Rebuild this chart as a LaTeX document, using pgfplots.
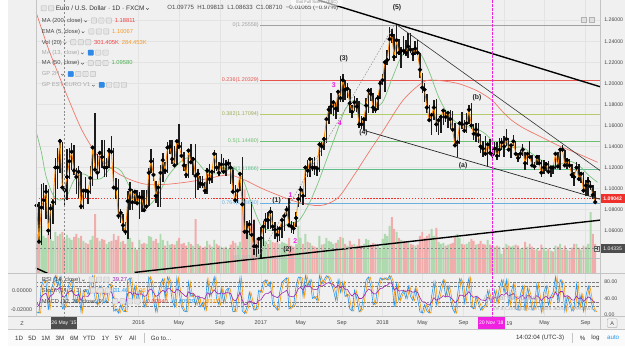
\documentclass[border=0pt]{standalone}
\usepackage{fontspec}
\setmainfont{Liberation Sans}
\usepackage{pgfplots}
\pgfplotsset{compat=1.18}
\usepackage{pgfplotstable}

% ---------- colours ----------
\definecolor{panebg}{HTML}{F0F0F0}
\definecolor{barbg}{HTML}{FAFAFA}
\definecolor{gridc}{HTML}{E3E3E3}
\definecolor{sepc}{HTML}{C4C4C4}
\definecolor{txt}{HTML}{474747}
\definecolor{txtl}{HTML}{A8A8A8}
\definecolor{candle}{HTML}{1C1C1C}
\definecolor{ema}{HTML}{FF8A00}
\definecolor{ma200}{HTML}{F0786C}
\definecolor{ma50}{HTML}{7CC47F}
\definecolor{volr}{HTML}{F2A5A5}
\definecolor{volg}{HTML}{A8D8A8}
\definecolor{fib0}{HTML}{A0A0A0}
\definecolor{fib1}{HTML}{E5534B}
\definecolor{fib2}{HTML}{B5CC6A}
\definecolor{fib3}{HTML}{6CC070}
\definecolor{fib4}{HTML}{5DBE8C}
\definecolor{fib5}{HTML}{6AB0E0}
\definecolor{wmag}{HTML}{F020E0}
\definecolor{stk}{HTML}{2196F3}
\definecolor{std}{HTML}{FF9800}
\definecolor{rsic}{HTML}{9C27B0}
\definecolor{lvl}{HTML}{7A7A7A}
\definecolor{lastred}{HTML}{F0302A}
\definecolor{crossbg}{HTML}{4D4D4D}
\definecolor{icoborder}{HTML}{BDBDBD}
\definecolor{icofill}{HTML}{E4E4E4}
\definecolor{icoblue}{HTML}{2E8AE6}
\definecolor{valred}{HTML}{F04040}
\definecolor{valor}{HTML}{F59A2B}
\definecolor{valgr}{HTML}{4CAF50}

% ---------- weekly EUR/USD: week (0 = 4 Jan 2016), high, low, close,
% signed volume (+ up / - down), stochastic %K, RSI ----------
\pgfplotstableread{
w h l c v k r
-44 1.1245 1.0840 1.0840 -40 8 30
-43 1.0870 1.0490 1.0495 -45 5 22
-42 1.1040 1.0462 1.0820 48 70 45
-41 1.1050 1.0800 1.0890 38 85 50
-40 1.1035 1.0710 1.0970 36 80 53
-39 1.1000 1.0560 1.0600 -40 12 38
-38 1.0850 1.0520 1.0810 35 60 47
-37 1.0900 1.0660 1.0870 33 75 50
-36 1.1290 1.0840 1.1200 42 95 64
-35 1.1390 1.1000 1.1200 -38 70 62
-34 1.1467 1.1150 1.1450 40 92 68
-33 1.1440 1.1020 1.1010 -42 15 45
-32 1.1010 1.0820 1.0985 -35 20 44
-31 1.1380 1.0890 1.1110 39 55 52
-30 1.1390 1.1090 1.1260 36 78 57
-29 1.1430 1.1180 1.1350 34 85 60
-28 1.1410 1.1130 1.1170 -37 35 50
-27 1.1200 1.0950 1.1110 -40 30 47
-26 1.1210 1.0910 1.1160 36 55 50
-25 1.1160 1.0810 1.0830 -38 8 35
-24 1.0990 1.0810 1.0980 33 60 46
-23 1.1110 1.0910 1.0980 -31 62 46
-22 1.1000 1.0850 1.0970 -30 50 45
-21 1.1210 1.0950 1.1100 34 80 54
-20 1.1390 1.1020 1.1390 38 95 66
-19 1.1714 1.1170 1.1180 -60 40 55
-18 1.1330 1.1090 1.1150 -36 25 52
-17 1.1360 1.1150 1.1340 33 70 58
-16 1.1460 1.1200 1.1300 -35 60 56
-15 1.1460 1.1110 1.1200 -34 30 51
-14 1.1290 1.1110 1.1200 30 35 51
-13 1.1390 1.1200 1.1360 32 75 57
-12 1.1495 1.1340 1.1350 -33 70 56
-11 1.1390 1.1000 1.1010 -40 10 40
-10 1.1100 1.0900 1.1000 -34 15 39
-9 1.1090 1.0710 1.0740 -38 5 30
-8 1.0810 1.0670 1.0770 32 25 33
-7 1.0760 1.0600 1.0650 -33 10 28
-6 1.0680 1.0560 1.0590 -30 8 26
-5 1.0980 1.0524 1.0880 45 85 52
-4 1.1060 1.0800 1.0990 36 90 56
-3 1.1000 1.0800 1.0870 -32 40 50
-2 1.0990 1.0850 1.0970 26 70 54
-1 1.0990 1.0860 1.0860 -24 30 49
0 1.0970 1.0710 1.0920 34 60 51
1 1.0990 1.0780 1.0915 -30 55 51
2 1.0990 1.0780 1.0795 -31 20 45
3 1.0990 1.0810 1.0830 30 35 47
4 1.1200 1.0830 1.1150 38 92 60
5 1.1376 1.1150 1.1260 37 80 63
6 1.1290 1.1070 1.1130 -33 35 55
7 1.1070 1.0860 1.0930 -35 8 45
8 1.1020 1.0820 1.1010 31 50 48
9 1.1220 1.0820 1.1150 40 75 55
10 1.1340 1.1060 1.1270 34 88 60
11 1.1250 1.1140 1.1170 -28 40 55
12 1.1440 1.1150 1.1390 33 92 64
13 1.1460 1.1330 1.1400 29 78 64
14 1.1460 1.1230 1.1280 -30 35 57
15 1.1400 1.1220 1.1220 -29 20 54
16 1.1460 1.1220 1.1450 33 90 63
17 1.1616 1.1380 1.1400 -36 55 60
18 1.1440 1.1300 1.1310 -30 20 54
19 1.1350 1.1170 1.1220 -31 10 49
20 1.1230 1.1100 1.1130 -28 8 44
21 1.1370 1.1100 1.1360 32 80 56
22 1.1420 1.1250 1.1250 -30 45 52
23 1.1300 1.1130 1.1280 28 50 53
24 1.1427 1.0912 1.1120 -55 25 45
25 1.1190 1.0990 1.1140 30 45 46
26 1.1120 1.1010 1.1050 -28 20 42
27 1.1120 1.1010 1.1040 -26 30 42
28 1.1060 1.0950 1.0980 -27 12 39
29 1.1200 1.0950 1.1170 33 85 54
30 1.1230 1.1040 1.1090 -29 45 50
31 1.1180 1.1050 1.1160 27 70 53
32 1.1366 1.1150 1.1330 34 92 61
33 1.1340 1.1170 1.1200 -30 40 54
34 1.1250 1.1120 1.1150 -28 25 51
35 1.1330 1.1160 1.1230 27 65 54
36 1.1290 1.1150 1.1160 -26 30 51
37 1.1270 1.1120 1.1230 27 60 54
38 1.1280 1.1180 1.1240 25 65 54
39 1.1250 1.1040 1.1200 -29 40 52
40 1.1200 1.0960 1.0970 -33 8 38
41 1.1030 1.0860 1.0890 -31 10 34
42 1.0990 1.0860 1.0980 28 50 42
43 1.1140 1.0980 1.1140 32 90 55
44 1.1299 1.0850 1.0850 -75 10 36
45 1.0900 1.0570 1.0590 -85 4 25
46 1.0690 1.0520 1.0590 -45 20 27
47 1.0700 1.0560 1.0660 40 55 34
48 1.0870 1.0540 1.0560 -50 30 32
49 1.0700 1.0370 1.0450 -55 12 28
50 1.0470 1.0352 1.0450 -34 15 28
51 1.0500 1.0380 1.0520 24 60 35
52 1.0630 1.0340 1.0530 40 55 37
53 1.0690 1.0450 1.0640 36 80 46
54 1.0770 1.0580 1.0700 33 85 52
55 1.0780 1.0620 1.0700 -30 70 52
56 1.0829 1.0620 1.0780 34 80 57
57 1.0790 1.0600 1.0640 -32 25 47
58 1.0680 1.0520 1.0610 -31 20 45
59 1.0640 1.0494 1.0560 -33 12 42
60 1.0630 1.0500 1.0620 30 55 47
61 1.0710 1.0530 1.0700 32 80 53
62 1.0770 1.0600 1.0740 31 85 56
63 1.0830 1.0740 1.0800 30 90 60
64 1.0906 1.0650 1.0650 -36 15 46
65 1.0690 1.0580 1.0640 -28 20 45
66 1.0680 1.0570 1.0620 -27 25 44
67 1.0780 1.0630 1.0720 30 70 52
68 1.0950 1.0820 1.0900 48 92 64
69 1.1020 1.0870 1.0990 36 90 67
70 1.0990 1.0840 1.0930 -30 45 60
71 1.1210 1.0920 1.1200 40 95 72
72 1.1270 1.1110 1.1170 -32 70 68
73 1.1290 1.1110 1.1280 31 85 70
74 1.1290 1.1170 1.1200 -28 40 63
75 1.1300 1.1130 1.1200 -27 45 62
76 1.1210 1.1120 1.1190 -26 35 61
77 1.1445 1.1160 1.1420 38 95 72
78 1.1440 1.1310 1.1400 -29 75 70
79 1.1490 1.1370 1.1470 30 85 72
80 1.1680 1.1430 1.1660 36 95 77
81 1.1780 1.1610 1.1750 33 90 78
82 1.1910 1.1710 1.1780 32 75 76
83 1.1840 1.1690 1.1820 30 60 74
84 1.1810 1.1660 1.1760 -31 35 66
85 1.1940 1.1730 1.1920 34 85 72
86 1.2070 1.1820 1.1860 -37 55 66
87 1.2092 1.1820 1.2030 36 80 70
88 1.2030 1.1840 1.1940 -30 45 62
89 1.2000 1.1860 1.1950 28 50 62
90 1.1950 1.1720 1.1810 -33 15 52
91 1.1790 1.1670 1.1730 -29 10 46
92 1.1880 1.1740 1.1820 30 60 53
93 1.1860 1.1730 1.1780 -28 40 50
94 1.1830 1.1580 1.1610 -35 8 40
95 1.1690 1.1570 1.1610 -28 15 40
96 1.1670 1.1554 1.1660 30 50 45
97 1.1860 1.1640 1.1790 35 85 56
98 1.1960 1.1720 1.1930 34 92 63
99 1.1960 1.1830 1.1900 -29 70 60
100 1.1910 1.1720 1.1770 -31 25 52
101 1.1860 1.1720 1.1750 -30 30 51
102 1.1890 1.1750 1.1860 28 70 57
103 1.2020 1.1850 1.2000 26 90 64
104 1.2090 1.1980 1.2030 35 85 65
105 1.2200 1.1920 1.2200 40 90 71
106 1.2320 1.2170 1.2220 38 85 72
107 1.2537 1.2220 1.2420 48 95 78
108 1.2520 1.2380 1.2460 -57 80 77
109 1.2470 1.2210 1.2250 -45 20 60
110 1.2555 1.2240 1.2410 42 75 66
111 1.2420 1.2270 1.2290 -36 35 58
112 1.2350 1.2150 1.2310 34 50 59
113 1.2450 1.2270 1.2310 -33 60 59
114 1.2410 1.2260 1.2290 -31 40 57
115 1.2480 1.2240 1.2350 32 70 60
116 1.2480 1.2290 1.2320 -30 45 58
117 1.2340 1.2210 1.2280 -29 35 55
118 1.2400 1.2270 1.2330 28 65 57
119 1.2410 1.2270 1.2290 -29 40 55
120 1.2290 1.2050 1.2130 -38 8 42
121 1.2100 1.1910 1.1960 -42 5 32
122 1.2000 1.1820 1.1940 -36 25 32
123 1.1900 1.1720 1.1770 -38 10 27
124 1.1790 1.1650 1.1650 -40 5 24
125 1.1720 1.1510 1.1700 45 45 32
126 1.1840 1.1650 1.1770 38 80 42
127 1.1850 1.1540 1.1610 -46 25 36
128 1.1660 1.1510 1.1650 32 45 39
129 1.1690 1.1530 1.1680 30 70 42
130 1.1760 1.1600 1.1740 31 85 47
131 1.1750 1.1630 1.1680 -28 45 44
132 1.1720 1.1580 1.1720 29 70 46
133 1.1750 1.1570 1.1660 -30 40 43
134 1.1740 1.1550 1.1560 -31 15 38
135 1.1620 1.1410 1.1410 -38 5 30
136 1.1450 1.1301 1.1440 40 45 34
137 1.1640 1.1420 1.1620 36 88 48
138 1.1730 1.1570 1.1610 -30 75 48
139 1.1650 1.1530 1.1550 -29 30 45
140 1.1720 1.1530 1.1620 30 65 50
141 1.1790 1.1610 1.1750 32 90 57
142 1.1815 1.1570 1.1600 -35 20 47
143 1.1610 1.1460 1.1520 -33 15 43
144 1.1620 1.1440 1.1560 29 45 45
145 1.1620 1.1430 1.1510 -30 30 43
146 1.1520 1.1340 1.1400 -33 12 37
147 1.1450 1.1300 1.1380 -30 20 36
148 1.1500 1.1310 1.1330 -29 25 35
149 1.1420 1.1216 1.1420 34 60 43
150 1.1470 1.1340 1.1340 -29 35 39
151 1.1400 1.1270 1.1320 -28 30 38
152 1.1440 1.1320 1.1380 27 60 43
153 1.1440 1.1270 1.1310 -28 30 40
154 1.1480 1.1300 1.1370 27 65 45
155 1.1480 1.1370 1.1440 20 85 50
156 1.1500 1.1300 1.1400 -26 55 48
157 1.1570 1.1400 1.1470 30 85 54
158 1.1480 1.1360 1.1370 -28 25 46
159 1.1420 1.1290 1.1410 27 55 49
160 1.1510 1.1400 1.1450 28 75 52
161 1.1450 1.1320 1.1330 -29 15 43
162 1.1340 1.1250 1.1290 -28 12 40
163 1.1370 1.1290 1.1330 25 50 44
164 1.1420 1.1310 1.1370 26 70 48
165 1.1350 1.1180 1.1240 -32 10 39
166 1.1340 1.1220 1.1330 27 65 47
167 1.1448 1.1300 1.1300 -30 45 46
168 1.1320 1.1210 1.1220 -27 12 40
169 1.1250 1.1180 1.1210 -24 20 39
170 1.1320 1.1220 1.1300 25 75 47
171 1.1320 1.1230 1.1240 -23 40 43
172 1.1270 1.1111 1.1150 -29 8 35
173 1.1270 1.1140 1.1200 26 55 42
174 1.1250 1.1170 1.1230 23 70 45
175 1.1260 1.1150 1.1160 -25 25 40
176 1.1210 1.1110 1.1200 23 45 43
177 1.1210 1.1140 1.1200 -22 55 43
178 1.1350 1.1190 1.1330 28 92 56
179 1.1350 1.1200 1.1210 -27 30 46
180 1.1390 1.1180 1.1370 30 85 57
181 1.1412 1.1360 1.1370 -24 75 57
182 1.1370 1.1210 1.1220 -28 10 44
183 1.1290 1.1190 1.1270 24 45 47
184 1.1280 1.1200 1.1220 -23 30 44
185 1.1230 1.1100 1.1130 -26 10 37
186 1.1160 1.1027 1.1110 -30 20 36
187 1.1250 1.1170 1.1200 30 75 46
188 1.1230 1.1070 1.1090 -26 20 39
189 1.1160 1.1050 1.1140 24 50 42
190 1.1160 1.0970 1.0980 -28 10 33
191 1.1080 1.0926 1.1030 27 45 38
192 1.1109 1.0930 1.1070 30 70 44
193 1.1070 1.0990 1.1020 62 40 41
194 1.1030 1.0900 1.0940 -40 15 35
195 1.0980 1.0863 1.0871 -30 8 30
}\fx

% MA (200) on daily closes
\pgfplotstableread{
w p
-44.3 1.268
-39.3 1.235
-35.1 1.211
-30.0 1.183
-24.5 1.155
-18.2 1.132
-13.9 1.123
-9.7 1.115
-3.4 1.108
3.0 1.104
11.4 1.104
19.8 1.106
28.3 1.109
34.6 1.112
38.9 1.113
45.2 1.108
51.5 1.101
57.9 1.095
66.3 1.088
74.7 1.084
79.8 1.085
85.3 1.092
91.6 1.112
98.0 1.134
104.3 1.155
112.8 1.184
121.2 1.201
126.3 1.203
136.0 1.200
144.4 1.193
150.8 1.184
155.0 1.174
159.2 1.165
164.7 1.157
171.9 1.149
179.1 1.141
186.7 1.134
196.0 1.125
}\maL

% MA (50) on daily closes
\pgfplotstableread{
w p
-44.3 1.155
-42 1.135
-40 1.112
-37 1.094
-34 1.089
-31 1.093
-28 1.108
-24 1.114
-20 1.109
-16 1.110
-12 1.120
-8 1.117
-4 1.101
0 1.087
4 1.084
8 1.094
12 1.111
16 1.122
20 1.129
24 1.127
28 1.117
32 1.114
36 1.115
40 1.120
44 1.110
48 1.086
52 1.065
56 1.060
60 1.062
64 1.067
68 1.069
72 1.083
76 1.103
80 1.127
84 1.151
88 1.175
92 1.184
96 1.179
100 1.177
104 1.182
108 1.204
112 1.225
116 1.233
120 1.229
124 1.211
128 1.187
132 1.171
136 1.162
140 1.159
144 1.157
148 1.152
152 1.143
156 1.137
160 1.139
164 1.139
168 1.133
172 1.127
176 1.122
180 1.123
184 1.126
188 1.122
192 1.113
196 1.106
}\maS

\newcommand\legf{\fontsize{5.9}{7}\selectfont}
\newsavebox\icog
\newsavebox\icob
\newsavebox\chv
\newcommand\ic{\raisebox{-0.9bp}{\usebox\icog}\hspace{1.7bp}}
\newcommand\icb{\raisebox{-0.9bp}{\usebox\icob}\hspace{1.7bp}}
\newcommand\cv{\hspace{1.6bp}\raisebox{0.4bp}{\usebox\chv}\hspace{4bp}}

\pgfplotsset{
  pane/.style={anchor=south west, scale only axis, width=572bp,
    xmin=-44.34, xmax=197.2, axis line style={draw=none},
    major tick length=0pt, clip=true},
  monthticks/.style={xtick={-0.43,16.86,34.4,51.9,69.0,86.6,104.0,121.1,138.7,156.1,173.3,190.9}},
}

\begin{document}
\sbox\icog{\tikz\filldraw[draw=icoborder,fill=icofill,line width=0.4bp,rounded corners=0.7bp] (0,0) rectangle (5.4bp,5.4bp);}
\sbox\icob{\tikz\filldraw[draw=icoblue,fill=icoblue,line width=0.4bp,rounded corners=0.7bp] (0,0) rectangle (5.4bp,5.4bp);}
\sbox\chv{\tikz\draw[txt,line width=0.45bp] (0,1.5bp)--(1.3bp,0.2bp)--(2.6bp,1.5bp);}
\begin{tikzpicture}
\useasboundingbox (0,0) rectangle (625bp,351bp);
\fill[panebg] (0,0) rectangle (625bp,351bp);
\fill[barbg] (0,0) rectangle (625bp,17bp);

% ---------- price pane: grid ----------
\begin{axis}[pane, at={(28bp,74bp)}, height=277bp, ymin=1.0194, ymax=1.2792,
  monthticks, ytick={1.04,1.06,1.08,1.10,1.12,1.14,1.16,1.18,1.20,1.22,1.24,1.26},
  xticklabels={}, yticklabels={}, grid=major, grid style={gridc, line width=0.5bp}]
\addplot[draw=none] coordinates {(0,1.1)};
\end{axis}

% ---------- volume ----------
\begin{axis}[pane, at={(28bp,74bp)}, height=277bp, ymin=0, ymax=277, ticks=none]
\addplot[ybar, bar width=2bp, bar shift=0pt, fill=volr, draw=none, fill opacity=0.9]
  table[x=w, y expr={max(-\thisrow{v},0)}]{\fx};
\addplot[ybar, bar width=2bp, bar shift=0pt, fill=volg, draw=none, fill opacity=0.9]
  table[x=w, y expr={max(\thisrow{v},0)}]{\fx};
\end{axis}

% ---------- price ----------
\begin{axis}[pane, at={(28bp,74bp)}, height=277bp, ymin=1.0194, ymax=1.2792,
  xtick=\empty, ytick={1.06,1.08,1.10,1.12,1.14,1.16,1.18,1.20,1.22,1.24,1.26},
  yticklabel pos=right,
  y tick label style={font=\fontsize{5.3}{6}\selectfont, text=txt, xshift=0.5bp,
    /pgf/number format/fixed, /pgf/number format/fixed zerofill,
    /pgf/number format/precision=5, /pgf/number format/assume math mode=true}]
% Fibonacci retracement
\addplot[fib0, line width=0.7bp] coordinates {(51.5,1.25558) (197.2,1.25558)};
\addplot[fib1, line width=0.7bp] coordinates {(51.5,1.20329) (197.2,1.20329)};
\addplot[fib2, line width=0.7bp] coordinates {(51.5,1.17094) (197.2,1.17094)};
\addplot[fib3, line width=0.7bp] coordinates {(51.5,1.14480) (197.2,1.14480)};
\addplot[fib4, line width=0.7bp] coordinates {(51.5,1.11866) (197.2,1.11866)};
\addplot[fib5, line width=0.7bp] coordinates {(51.5,1.08630) (197.2,1.08630)};
\addplot[fib0!70, line width=0.6bp] coordinates {(51.5,1.03398) (197.2,1.03398)};
% last price
\addplot[lastred, line width=0.5bp, dash pattern=on 1.5bp off 1.5bp] coordinates {(-44.34,1.0904) (197.2,1.0904)};
% moving averages
\addplot[ma200, line width=0.7bp, smooth] table[x=w,y=p]{\maL};
\addplot[ma50, line width=0.7bp, smooth] table[x=w,y=p]{\maS};
% candles (high-low range)
\addplot[only marks, mark=none,
  error bars/.cd, y dir=both, y explicit, error mark=none,
  error bar style={draw=candle, line width=1.5bp}]
  table[x=w, y=c, y error plus expr=\thisrow{h}-\thisrow{c},
        y error minus expr=\thisrow{c}-\thisrow{l}]{\fx};
% EMA 5
\addplot[ema, line width=0.8bp] table[x=w,y=c]{\fx};
% wave trend lines
\addplot[black, line width=1.4bp] coordinates {(76.4,1.2792) (197.2,1.1967)};
\addplot[black!80, line width=0.6bp] coordinates {(110.6,1.2548) (197.2,1.1169)};
\addplot[black!85, line width=0.7bp] coordinates {(95.9,1.1554) (197.2,1.0898)};
\addplot[black, line width=1.4bp] coordinates {(-2.1,1.0203) (197.2,1.0700)};
\addplot[black, line width=1.4bp] coordinates {(-44.34,1.0245) (-39.3,1.0194)};
\addplot[black!45, line width=0.5bp, dash pattern=on 1.5bp off 1.5bp] coordinates {(51.1,1.0353) (109.4,1.2567)};
% Fibonacci labels
\begin{scope}[every node/.style={anchor=east, inner sep=0.5bp, font=\fontsize{5.5}{6}\selectfont}]
\node[text=fib0] at (axis cs:51.3,1.25558) {0(1.25558)};
\node[text=fib1] at (axis cs:51.3,1.20329) {0.236(1.20329)};
\node[text=fib2!85!black] at (axis cs:51.3,1.17094) {0.382(1.17094)};
\node[text=fib3] at (axis cs:51.3,1.14480) {0.5(1.14480)};
\node[text=fib4] at (axis cs:51.3,1.11866) {0.618(1.11866)};
\node[text=fib5] at (axis cs:51.3,1.08630) {0.764(1.08630)};
\node[text=fib0!80] at (axis cs:51.3,1.03398) {1(1.03398)};
\end{scope}
\end{axis}

% ---------- oscillator pane ----------
\begin{axis}[pane, at={(28bp,30bp)}, height=44bp, ymin=-4, ymax=100.7,
  monthticks, xticklabels={2016,May,Sep,2017,May,Sep,2018,May,Sep,,May,Sep},
  xmajorgrids, grid style={gridc, line width=0.5bp},
  x tick label style={font=\fontsize{5.6}{6}\selectfont, text=txt, anchor=center, yshift=-6bp},
  ytick={0,40,80}, yticklabels={0.00,40.00,80.00}, yticklabel pos=right,
  y tick label style={font=\fontsize{5.3}{6}\selectfont, text=txt, xshift=0.5bp}]
\addplot[lvl, line width=0.8bp, dash pattern=on 2.5bp off 1.5bp] coordinates {(-44.34,80) (197.2,80)};
\addplot[lvl, line width=0.8bp, dash pattern=on 2.5bp off 1.5bp] coordinates {(-44.34,70) (197.2,70)};
\addplot[lvl, line width=0.8bp, dash pattern=on 2.5bp off 1.5bp] coordinates {(-44.34,30) (197.2,30)};
\addplot[lvl, line width=0.8bp, dash pattern=on 2.5bp off 1.5bp] coordinates {(-44.34,20) (197.2,20)};
\addplot[std, line width=0.6bp] table[x expr=\thisrow{w}+0.7, y=k]{\fx};
\addplot[stk, line width=0.6bp] table[x=w, y=k]{\fx};
\addplot[rsic, line width=0.6bp] table[x=w, y=r]{\fx};
\end{axis}

% ---------- chrome, legends and annotations (pixel grid, y downwards) ----------
\begin{scope}[x=1bp, y=-1bp, shift={(0,351bp)}]
% separators
\draw[sepc, line width=0.6bp] (0,277) -- (625,277);
\draw[sepc, line width=0.6bp] (0,321) -- (625,321);
\draw[sepc, line width=0.6bp] (0,334) -- (625,334);
\draw[sepc, line width=0.6bp] (600,0) -- (600,334);
\draw[sepc, line width=0.6bp] (28,0) -- (28,321);

% crosshair and vertical marker
\draw[black!45, line width=0.5bp, dash pattern=on 2bp off 2bp] (57,0) -- (57,321);
\draw[black!45, line width=0.5bp, dash pattern=on 2bp off 2bp] (28,252) -- (600,252);
\draw[wmag, line width=0.6bp, dash pattern=on 3bp off 1bp] (491,0) -- (491,321);

% price boxes
\fill[lastred] (600.5,196.5) rectangle (625,205.5);
\node[text=white, font=\bfseries\fontsize{5.2}{6}\selectfont] at (612.5,201) {1.09042};
\fill[crossbg] (600.5,247.5) rectangle (625,256.5);
\node[text=white, font=\fontsize{5.2}{6}\selectfont] at (612.5,252) {1.04335};
\filldraw[draw=black!60, fill=black!15, line width=0.4bp] (594,249.5) rectangle (599,254.5);
\draw[black!70, line width=0.4bp] (596.5,250.5) -- (596.5,253.5) (595,252) -- (598,252);

% top-right buttons
\filldraw[draw=black!30, fill=black!12, line width=0.3bp] (580.5,17.5) rectangle (585.5,22.5);
\filldraw[draw=black!30, fill=black!12, line width=0.3bp] (588.5,17.5) rectangle (593.5,22.5);

% time-axis boxes
\fill[crossbg] (43,321.5) rectangle (70,333);
\node[text=white, font=\fontsize{5.2}{6}\selectfont] at (56.5,327.2) {26 May '15};
\fill[wmag] (476,321.5) rectangle (503,333);
\node[text=white, font=\fontsize{5.2}{6}\selectfont] at (489.5,327.2) {20 Nov '18};
\node[text=txt, font=\fontsize{5.6}{6}\selectfont, anchor=west, inner sep=0] at (504.5,327.5) {19};
\node[text=txt, font=\fontsize{5.6}{6}\selectfont] at (14,327.5) {Z};
\draw[black!30, line width=0.4bp, rounded corners=1bp] (607,323) rectangle (617,332);
\node[text=txt, font=\fontsize{5.6}{6}\selectfont] at (612,327.5) {A};

% oscillator left scale
\node[text=txt, font=\fontsize{5.5}{6}\selectfont] at (14,294) {0.00000};
\node[text=txt, font=\fontsize{5.5}{6}\selectfont] at (13.5,314) {-0.02000};

% wave counts
\begin{scope}[every node/.style={font=\bfseries\fontsize{7}{8}\selectfont, text=black!85, inner sep=0}]
\node at (272,203) {(1)};
\node at (283,253) {(2)};
\node at (340,59) {(3)};
\node at (360,134) {(4)};
\node at (394,8) {(5)};
\node at (461,168) {(a)};
\node at (475,99) {(b)};
\end{scope}
\begin{scope}[every node/.style={font=\bfseries\fontsize{7}{8}\selectfont, text=wmag, inner sep=0}]
\node at (286,198) {1};
\node at (291,244) {2};
\node at (330,86) {3};
\node at (336,125) {4};
\end{scope}

% header
\node[anchor=west, inner sep=0, text=black!80, font=\fontsize{6.6}{7}\selectfont] at (33,8.3)
  {\ic\ic Euro / U.S. Dollar · 1D · FXCM\cv};
\node[anchor=west, inner sep=0, text=txt, font=\fontsize{6.2}{7}\selectfont] at (161,8.3)
  {O1.09775\ \ H1.09813\ \ L1.08633\ \ C1.08710\ \ −0.01065 (−0.97\%)};
\fill[white, opacity=0.6] (287,-1) rectangle (339,6);
\node[text=black!45, font=\fontsize{4.2}{5}\selectfont] at (313,2.4) {Exit Full Screen (ESC)};

% indicator legend
\begin{scope}[every node/.style={anchor=west, inner sep=0, font=\legf, text=txt}]
\node at (34,21) {MA (200, close)\cv\ic\ic\ic\hspace{1.5bp}\textcolor{valred}{1.18811}};
\node at (34,32) {EMA (5, close)\cv\ic\ic\ic\hspace{1.5bp}\textcolor{valor}{1.10067}};
\node at (34,43) {Vol (20)\cv\ic\ic\ic\hspace{1.5bp}\textcolor{valred}{301.405K}\hspace{3bp}\textcolor{valor}{284.453K}};
\node[text=txtl] at (34,53.5) {MA (13, close)\cv\icb\ic\ic};
\node at (34,64) {MA (50, close)\cv\ic\ic\ic\hspace{1.5bp}\textcolor{valgr}{1.09580}};
\node[text=txtl] at (34,75) {GP 2H\cv\icb\ic\ic\ic};
\node[text=txtl] at (34,86) {GP EST EURO V1\cv\icb\ic\ic\ic};
% oscillator legend
\node at (34,283.5) {RSI (14, close)\cv\ic\ic\ic\hspace{1.5bp}\textcolor{rsic}{39.27}};
\node at (34,294.5) {Stoch (14, 3, 3)\cv\ic\ic\ic\hspace{1.5bp}\textcolor{stk}{31.46}\hspace{3bp}\textcolor{std}{37.06}};
\node at (34,305.5) {MACD (12, 26, close, 9)\cv\ic\ic\ic\ic\hspace{1.5bp}\textcolor{valred}{−0.00840}\hspace{3bp}\textcolor{stk}{−0.00529}\hspace{3bp}\textcolor{std}{0.00311}};
\end{scope}

% system watermark
\node[anchor=west, text=black!28, font=\fontsize{7.5}{8}\selectfont] at (478,302) {Activar Windows};
\node[anchor=east, text=black!28, font=\fontsize{5.6}{6}\selectfont] at (598,313) {Ve a Configuración para activar Windows.};

% bottom toolbar
\begin{scope}[every node/.style={font=\fontsize{6.3}{7}\selectfont, text=black!80, inner sep=0}]
\node at (11,342.5) {1D};
\node at (24.5,342.5) {5D};
\node at (38,342.5) {1M};
\node at (52.5,342.5) {3M};
\node at (67,342.5) {6M};
\node at (82,342.5) {YTD};
\node at (98.5,342.5) {1Y};
\node at (112,342.5) {5Y};
\node at (126,342.5) {All};
\node[anchor=west] at (144.5,342.5) {Go to...};
\node at (539,342.5) {14:02:04 (UTC-3)};
\node at (582,342.5) {\%};
\node at (595,342.5) {log};
\node[text=stk] at (613,342.5) {auto};
\end{scope}
\draw[sepc, line width=0.5bp] (137.5,337) -- (137.5,348);
\draw[sepc, line width=0.5bp] (571.5,337) -- (571.5,348);
\end{scope}
\end{tikzpicture}
\end{document}
